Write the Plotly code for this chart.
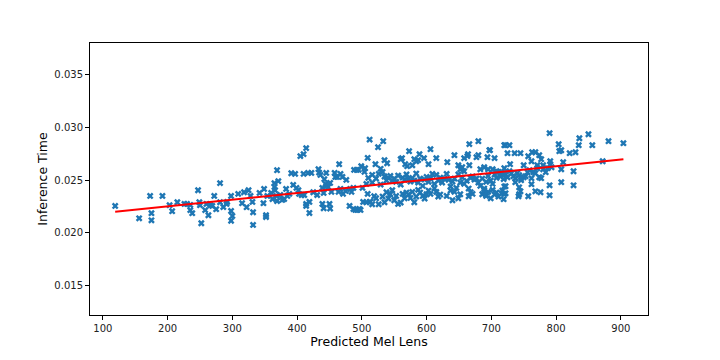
import plotly.graph_objects as go

# Predicted mel lengths (x) and inference times (y)
mel_lens = [
    119, 156, 173, 175, 175, 192, 203, 207, 215, 226, 230, 235, 235, 238, 247, 249, 252, 250, 258, 260,
    263, 266, 269, 272, 275, 281, 281, 286, 291, 292, 298, 298, 300, 298,
    309, 315, 318, 322, 325, 328, 331, 332, 332, 342, 348, 349, 352, 352, 354, 360, 362, 365, 365, 366,
    368, 369, 369, 371, 374, 377, 380, 383, 385, 388, 391, 394, 397, 399, 402, 403, 405, 407, 410, 410,
    411, 414, 414, 414, 417, 419, 419, 422, 425, 431, 433, 434, 436, 439, 439, 441, 441, 442, 444, 445,
    445, 448, 450, 451, 451, 453, 458, 459, 462, 464, 465, 467, 467, 470, 471, 475, 476, 481, 482, 484,
    487, 487, 488, 490, 492, 493, 495, 496, 498, 499, 501, 502, 504, 507, 509, 509, 512, 512,
    533, 525, 573, 589, 606, 560, 562, 581, 584, 587, 596, 615, 521, 535, 539, 567, 570, 578, 603, 632,
    643, 666, 680, 663, 664, 677, 680, 658, 694, 697, 698, 705, 720, 649, 652, 655, 658, 666, 683, 689,
    695, 702, 708, 720,
    505, 510, 516, 516, 522, 526, 529, 529, 532, 535, 538, 541, 544, 547, 550, 553, 556, 560, 563, 566,
    569, 572, 575, 578, 581, 584, 587, 590, 594, 597, 600, 603, 606, 609, 612, 615, 618, 621, 624, 628,
    631, 634, 637, 640, 643, 646, 649, 652, 655, 658, 662, 665, 668, 671, 674, 677, 680, 683, 686, 689,
    692, 695, 699, 702, 705, 708, 711, 714, 717, 720,
    507, 513, 516, 519, 522, 526, 532, 535, 538, 541, 544, 547, 550, 553, 556, 560, 563, 566, 569, 572,
    575, 578, 581, 584, 587, 590, 594, 597, 600, 603, 606, 612, 615, 618, 621, 631, 637, 640, 643, 649,
    652, 665, 668, 671, 686, 689, 692, 695, 699, 702, 705, 708, 711, 717, 720,
    790, 836, 850, 881, 904, 804, 835, 856, 722, 728, 805, 808, 821, 830, 725, 736, 745, 763, 768, 757,
    774, 777, 762, 791, 791, 811, 872, 729, 750, 771, 780, 793, 808, 827,
    716, 719, 722, 725, 728, 731, 734, 737, 740, 743, 746, 750, 753, 756, 759, 762, 765, 768, 771, 774,
    777, 780, 784, 787,
    722, 716, 722, 719, 743, 743, 745, 742, 757, 762, 768, 776, 790, 790, 808, 827, 719, 737, 746,
]

inference_time = [
    0.02256, 0.02139, 0.02351, 0.02187, 0.02120, 0.02351, 0.02263, 0.02206, 0.02291, 0.02275, 0.02275, 0.02265, 0.02216, 0.02187, 0.02405, 0.02291, 0.02092, 0.02263, 0.02216, 0.02275,
    0.02168, 0.02263, 0.02256, 0.02351, 0.02225, 0.02472, 0.02291, 0.02246, 0.02275, 0.02294, 0.02351, 0.02208, 0.02161, 0.02115,
    0.02370, 0.02282, 0.02386, 0.02244, 0.02405, 0.02351, 0.02294, 0.02196, 0.02076, 0.02379, 0.02282, 0.02417, 0.02168, 0.02151, 0.02351, 0.02379, 0.02322, 0.02472, 0.02436, 0.02405,
    0.02351, 0.02595, 0.02303, 0.02491, 0.02360, 0.02313, 0.02322, 0.02417, 0.02351, 0.02370, 0.02566, 0.02455, 0.02560, 0.02427, 0.02405, 0.02370, 0.02728, 0.02360, 0.02747, 0.02560,
    0.02360, 0.02804, 0.02275, 0.02256, 0.02569, 0.02294, 0.02189, 0.02569, 0.02386, 0.02360, 0.02605, 0.02572, 0.02550, 0.02427, 0.02275, 0.02379, 0.02234, 0.02510, 0.02465, 0.02569,
    0.02446, 0.02436, 0.02275, 0.02474, 0.02232, 0.02389, 0.02569, 0.02531, 0.02531, 0.02389, 0.02652, 0.02560, 0.02417, 0.02531, 0.02370, 0.02398, 0.02503, 0.02256, 0.02417, 0.02389,
    0.02427, 0.02227, 0.02598, 0.02218, 0.02598, 0.02218, 0.02598, 0.02227, 0.02218, 0.02633, 0.02427, 0.02294, 0.02579, 0.02465, 0.02712, 0.02370, 0.02294, 0.02885,
    0.02870, 0.02813, 0.02775, 0.02747, 0.02794, 0.02699, 0.02709, 0.02699, 0.02680, 0.02690, 0.02709, 0.02709, 0.02652, 0.02690, 0.02661, 0.02652, 0.02633, 0.02642, 0.02652, 0.02671,
    0.02737, 0.02842, 0.02870, 0.02728, 0.02747, 0.02718, 0.02737, 0.02709, 0.02718, 0.02785, 0.02785, 0.02709, 0.02832, 0.02642, 0.02604, 0.02623, 0.02585, 0.02642, 0.02604, 0.02623,
    0.02604, 0.02604, 0.02585, 0.02614,
    0.02614, 0.02522, 0.02551, 0.02478, 0.02516, 0.02560, 0.02608, 0.02459, 0.02579, 0.02535, 0.02497, 0.02522, 0.02541, 0.02494, 0.02516, 0.02484, 0.02544, 0.02459, 0.02525, 0.02503,
    0.02554, 0.02513, 0.02487, 0.02522, 0.02497, 0.02563, 0.02478, 0.02516, 0.02446, 0.02506, 0.02532, 0.02484, 0.02519, 0.02560, 0.02465, 0.02551, 0.02497, 0.02525, 0.02478, 0.02513,
    0.02560, 0.02503, 0.02440, 0.02487, 0.02516, 0.02427, 0.02554, 0.02478, 0.02525, 0.02465, 0.02494, 0.02421, 0.02522, 0.02535, 0.02506, 0.02516, 0.02478, 0.02446, 0.02516, 0.02421,
    0.02484, 0.02541, 0.02497, 0.02465, 0.02554, 0.02522, 0.02579, 0.02535, 0.02560, 0.02440,
    0.02291, 0.02294, 0.02272, 0.02348, 0.02329, 0.02272, 0.02345, 0.02291, 0.02386, 0.02326, 0.02367, 0.02405, 0.02310, 0.02351, 0.02275, 0.02288, 0.02370, 0.02329, 0.02383, 0.02364,
    0.02332, 0.02389, 0.02291, 0.02345, 0.02408, 0.02383, 0.02351, 0.02326, 0.02367, 0.02402, 0.02370, 0.02424, 0.02389, 0.02345, 0.02364, 0.02351, 0.02402, 0.02310, 0.02389, 0.02329,
    0.02367, 0.02348, 0.02386, 0.02370, 0.02367, 0.02405, 0.02351, 0.02389, 0.02329, 0.02408, 0.02364, 0.02383, 0.02345, 0.02402, 0.02370,
    0.02946, 0.02898, 0.02936, 0.02870, 0.02851, 0.02841, 0.02832, 0.02832, 0.02832, 0.02832, 0.02775, 0.02784, 0.02756, 0.02765, 0.02756, 0.02756, 0.02756, 0.02765, 0.02765, 0.02727,
    0.02737, 0.02699, 0.02680, 0.02680, 0.02652, 0.02671, 0.02680, 0.02652, 0.02642, 0.02642, 0.02642, 0.02623, 0.02604, 0.02585,
    0.02576, 0.02547, 0.02557, 0.02528, 0.02585, 0.02566, 0.02538, 0.02519, 0.02566, 0.02547, 0.02500, 0.02528, 0.02538, 0.02576, 0.02595, 0.02519, 0.02576, 0.02566, 0.02614, 0.02528,
    0.02519, 0.02604, 0.02576, 0.02614,
    0.02443, 0.02376, 0.02376, 0.02320, 0.02433, 0.02367, 0.02395, 0.02348, 0.02348, 0.02462, 0.02395, 0.02386, 0.02452, 0.02357, 0.02481, 0.02452, 0.02510, 0.02481, 0.02519,
]

# Fitted regression line endpoints
fit_x = [119, 904]
fit_y = [0.02200, 0.02699]

x_ticks = [100, 200, 300, 400, 500, 600, 700, 800, 900]
y_ticks = [0.015, 0.020, 0.025, 0.030, 0.035]

fig = go.Figure()
fig.add_trace(go.Scatter(
    x=mel_lens, y=inference_time, mode="markers",
    marker=dict(symbol="x", size=6, color="#1f77b4", line=dict(width=0)),
    showlegend=False,
))
fig.add_trace(go.Scatter(
    x=fit_x, y=fit_y, mode="lines",
    line=dict(color="#ff0000", width=2),
    showlegend=False,
))

axis_common = dict(
    showline=True, linecolor="black", linewidth=1, mirror=True,
    ticks="outside", ticklen=4, tickcolor="black", tickwidth=1,
    showgrid=False, zeroline=False,
    tickfont=dict(family="DejaVu Sans", size=10, color="#222222"),
)

fig.update_layout(
    width=712, height=352,
    margin=dict(l=82, r=72, t=35, b=45),
    paper_bgcolor="white", plot_bgcolor="white",
    font=dict(family="DejaVu Sans", color="black"),
    xaxis=dict(range=[80.1, 942], tickvals=x_ticks, ticktext=[str(v) for v in x_ticks],
               title=dict(text="Predicted Mel Lens", font=dict(family="DejaVu Sans", size=12.5, color="black"), standoff=4), **axis_common),
    yaxis=dict(range=[0.01222, 0.03801], tickvals=y_ticks, ticktext=[f"{v:.3f}" for v in y_ticks],
               title=dict(text="Inference Time", font=dict(family="DejaVu Sans", size=12.5, color="black"), standoff=3), **axis_common),
)

fig.write_html("out.html")
